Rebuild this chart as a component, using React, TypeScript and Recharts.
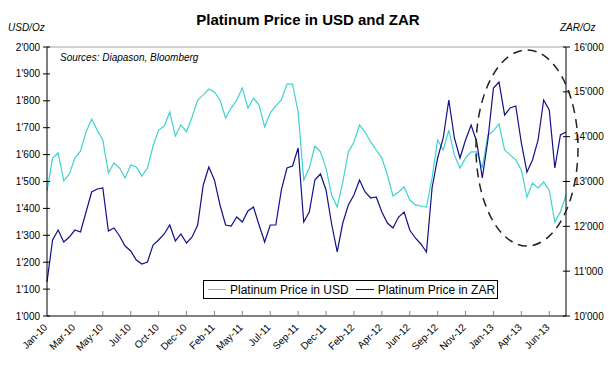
import React from "react";
import { LineChart, Line, XAxis, YAxis, ReferenceLine } from "recharts";

// one label every 5 points (10 weeks)
const tickLabels = [
  "Jan-10", "Mar-10", "May-10", "Jul-10", "Oct-10", "Dec-10", "Feb-11", "May-11", "Jul-11", "Sep-11",
  "Dec-11", "Feb-12", "Apr-12", "Jun-12", "Sep-12", "Nov-12", "Jan-13", "Apr-13", "Jun-13",
];

// Platinum price in USD/Oz, every 2 weeks
const usd = [
  1465, 1587, 1606, 1502, 1528, 1587, 1613, 1684, 1732, 1691,
  1654, 1532, 1569, 1550, 1513, 1561, 1554, 1520, 1550, 1632,
  1691, 1706, 1758, 1669, 1710, 1685, 1740, 1803, 1822, 1844,
  1833, 1803, 1736, 1773, 1803, 1848, 1773, 1810, 1784, 1703,
  1755, 1781, 1803, 1862, 1862, 1758, 1506, 1550, 1632, 1610,
  1550, 1450, 1405, 1498, 1610, 1647, 1710, 1684, 1647, 1617,
  1587, 1524, 1446, 1461, 1480, 1431, 1413, 1409, 1405, 1513,
  1654, 1617, 1691, 1599, 1550, 1587, 1610, 1610, 1550, 1673,
  1688, 1714, 1617, 1599, 1580, 1543, 1442, 1494, 1476, 1498,
  1468, 1349, 1387, 1450,
];

// Platinum price in ZAR/Oz
const zar = [
  10760, 11695, 11918, 11651, 11762, 11918, 11874, 12320, 12766, 12833,
  12855, 11896, 11963, 11785, 11561, 11450, 11249, 11160, 11205, 11584,
  11695, 11829, 12030, 11673, 11829, 11628, 11762, 12030, 12922, 13324,
  13034, 12476, 12030, 12008, 12208, 12097, 12342, 12431, 12030, 11651,
  12030, 12030, 12811, 13301, 13346, 13747, 12097, 12320, 13034, 13168,
  12811, 12052, 11428, 12074, 12476, 12699, 13034, 12766, 12632, 12654,
  12320, 12074, 11963, 12208, 12320, 11918, 11740, 11606, 11428, 12855,
  13524, 13971, 14818, 13971, 13524, 13926, 14261, 13881, 13078, 13926,
  15086, 15220, 14484, 14640, 14684, 13859, 13212, 13480, 13926, 14818,
  14595, 13301, 14038, 14105,
];

const usdTicks = [1000, 1100, 1200, 1300, 1400, 1500, 1600, 1700, 1800, 1900, 2000];
const zarTicks = [10000, 11000, 12000, 13000, 14000, 15000, 16000];

const data = usd.map((v, i) => ({ i, usd: v, zar: zar[i] }));

const CYAN = "#3fd3cf";
const NAVY = "#10108a";
const FONT = "Arial, 'Liberation Sans', sans-serif";

const fmt = (v: number) => {
  const s = String(v);
  return s.length > 3 ? s.slice(0, -3) + "'" + s.slice(-3) : s;
};

const LeftTick = ({ x, y, payload }: any) => (
  <g>
    <line x1={x - 4} x2={x + 3} y1={y} y2={y} stroke="#000" />
    <text x={x - 7} y={y} dy={3.5} textAnchor="end" fontSize={10} fill="#000" fontFamily={FONT}>
      {fmt(payload.value)}
    </text>
  </g>
);

const RightTick = ({ x, y, payload }: any) => (
  <g>
    <line x1={x - 3} x2={x + 4} y1={y} y2={y} stroke="#000" />
    <text x={x + 8} y={y} dy={3.5} textAnchor="start" fontSize={10} fill="#000" fontFamily={FONT}>
      {fmt(payload.value)}
    </text>
  </g>
);

const BottomTick = ({ x, y, payload }: any) => (
  <g>
    <line x1={x} x2={x} y1={y} y2={y - 5} stroke="#808080" />
    <text
      transform={`translate(${x + 1},${y + 12}) rotate(-45)`}
      textAnchor="end"
      fontSize={10}
      fill="#000"
      fontFamily={FONT}
    >
      {tickLabels[payload.value / 5]}
    </text>
  </g>
);

export default function App() {
  return (
    <div style={{ position: "fixed", left: 0, top: 0, width: 610, height: 368, background: "#fff", fontFamily: FONT }}>
      <LineChart width={610} height={368} data={data} margin={{ top: 47, right: 0, bottom: 7, left: 0 }}>
        <XAxis
          dataKey="i"
          type="category"
          interval={4}
          height={45}
          tickSize={0}
          tickMargin={0}
          tickLine={false}
          axisLine={{ stroke: "#808080", strokeWidth: 2 }}
          tick={<BottomTick />}
        />
        <YAxis
          yAxisId="usd"
          orientation="left"
          width={47}
          domain={[1000, 2000]}
          ticks={usdTicks}
          interval={0}
          tickSize={0}
          tickMargin={0}
          tickLine={false}
          axisLine={{ stroke: "#000" }}
          tick={<LeftTick />}
        />
        <YAxis
          yAxisId="zar"
          orientation="right"
          width={44}
          domain={[10000, 16000]}
          ticks={zarTicks}
          interval={0}
          tickSize={0}
          tickMargin={0}
          tickLine={false}
          axisLine={{ stroke: "#000" }}
          tick={<RightTick />}
        />
        <ReferenceLine yAxisId="usd" y={2000} stroke="#a0a0a0" />
        <Line
          yAxisId="usd"
          dataKey="usd"
          stroke={CYAN}
          strokeWidth={1.2}
          dot={false}
          isAnimationActive={false}
        />
        <Line
          yAxisId="zar"
          dataKey="zar"
          stroke={NAVY}
          strokeWidth={1.2}
          dot={false}
          isAnimationActive={false}
        />
      </LineChart>

      <svg width={610} height={368} style={{ position: "absolute", left: 0, top: 0, pointerEvents: "none" }}>
        <text x={308} y={25} textAnchor="middle" fontSize={15} fontWeight="bold" fill="#000" fontFamily={FONT}>
          Platinum Price in USD and ZAR
        </text>
        <text x={8} y={31} fontSize={10} fontStyle="italic" fill="#000" fontFamily={FONT}>
          USD/Oz
        </text>
        <text x={560} y={31} fontSize={10} fontStyle="italic" fill="#000" fontFamily={FONT}>
          ZAR/Oz
        </text>
        <text x={60} y={61} fontSize={10} fontStyle="italic" fill="#000" fontFamily={FONT}>
          Sources: Diapason, Bloomberg
        </text>
        <ellipse cx={527} cy={148} rx={51} ry={98} fill="none" stroke="#222" strokeWidth={1.5} strokeDasharray="9 6" />
      </svg>

      <div
        style={{
          position: "absolute",
          left: 203,
          top: 280,
          width: 293,
          height: 17,
          border: "1px solid #000",
          background: "#fff",
          display: "flex",
          alignItems: "center",
          fontSize: 12,
          color: "#000",
          whiteSpace: "nowrap",
        }}
      >
        <span style={{ display: "inline-block", width: 18, height: 0, borderTop: `1px solid ${CYAN}`, marginLeft: 4, marginRight: 4 }} />
        <span>Platinum Price in USD</span>
        <span style={{ display: "inline-block", width: 18, height: 0, borderTop: `1px solid ${NAVY}`, marginLeft: 7, marginRight: 4 }} />
        <span>Platinum Price in ZAR</span>
      </div>
    </div>
  );
}
